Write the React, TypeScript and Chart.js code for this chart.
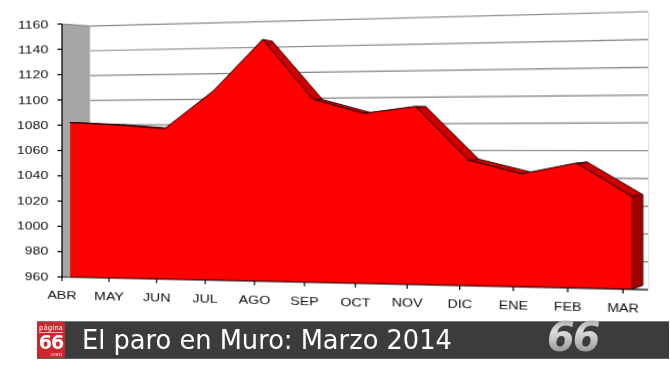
import React, { useEffect, useRef } from "react";
import { Chart, registerables } from "chart.js";

Chart.register(...registerables);

// ---------- data ----------
const months = ["ABR", "MAY", "JUN", "JUL", "AGO", "SEP", "OCT", "NOV", "DIC", "ENE", "FEB", "MAR"];
const paro = [1082, 1080, 1077, 1106, 1145, 1099, 1088, 1093, 1053, 1043, 1051, 1027];
const yTicks = [960, 980, 1000, 1020, 1040, 1060, 1080, 1100, 1120, 1140, 1160];
const titleText = "El paro en Muro: Marzo 2014";

// ---------- layout (flat chart space) ----------
const CW = 670;
const CH = 320;
const PAD = { left: 62, right: 22, top: 24, bottom: 43 };
const DATA_X = { min: -0.172, max: 11.29 };
const LABEL_X = { min: 0, max: 11.445 };
// perspective frame: flat rectangle -> trapezoid on screen
const FR = { L: 62, R: 648, LT: 24, LB: 277, RT: 11.7, RB: 289.7 };
// depth of the 3D area
const DEPTH = { dx: 10, yc: 123, k: 0.975 };
const WALL = { dx: 30.6, top: 2.6, k: 0.974 };
const FONT = "'Liberation Sans', Arial, sans-serif";
const STRETCH = 1.24;

function homography() {
  const { L, R, LT, LB, RT, RB } = FR;
  const hr = (RB - RT) / (LB - LT);
  const g = (hr - 1) / (L - hr * R);
  const wL = 1 + L * g;
  const wR = 1 + R * g;
  const e = wL;
  const d = (RT * wR - LT * wL) / (R - L);
  const f = -L * d;
  const a = (R * wR - L * wL) / (R - L);
  const b = L * wL - L * a;
  return { a, b, d, e, f, g };
}
const H = homography();
const matrixCss = `matrix3d(${H.a},${H.d},0,${H.g},0,${H.e},0,0,0,0,1,0,${H.b},${H.f},0,1)`;
// local on-screen scale of the flat canvas at flat x = u
const localSx = (u: number) => (H.a - H.g * H.b) / Math.pow(1 + H.g * u, 2);
const localSy = (u: number) => H.e / (1 + H.g * u);

function flatText(ctx: any, text: string, x: number, y: number, align: string) {
  ctx.save();
  ctx.translate(x, y);
  ctx.scale(STRETCH / localSx(x), 1 / localSy(x));
  ctx.textAlign = align;
  ctx.fillText(text, 0, 0);
  ctx.restore();
}

const depthPlugin = {
  id: "depth3d",
  beforeDatasetsDraw(chart: any) {
    const { ctx, chartArea: ca, scales } = chart;
    const y = scales.y;
    const backX = ca.left + WALL.dx;
    const backY = (py: number) => ca.top + WALL.top + (py - ca.top) * WALL.k;
    ctx.save();
    // left wall
    ctx.fillStyle = "#a6a6a6";
    ctx.beginPath();
    ctx.moveTo(ca.left, ca.top);
    ctx.lineTo(backX, backY(ca.top));
    ctx.lineTo(backX, backY(ca.bottom));
    ctx.lineTo(ca.left, ca.bottom);
    ctx.closePath();
    ctx.fill();
    // back wall right border
    ctx.strokeStyle = "#e4e4e4";
    ctx.lineWidth = 1;
    ctx.beginPath();
    ctx.moveTo(ca.right + 0.5, ca.top);
    ctx.lineTo(ca.right + 0.5, ca.bottom);
    ctx.stroke();
    // gridlines on back wall
    ctx.strokeStyle = "#858585";
    ctx.lineWidth = 1.2;
    yTicks.forEach((v) => {
      const py = y.getPixelForValue(v);
      ctx.beginPath();
      ctx.moveTo(backX, backY(py));
      ctx.lineTo(ca.right, py);
      ctx.stroke();
    });
    ctx.beginPath();
    ctx.moveTo(ca.left, ca.top);
    ctx.lineTo(backX, backY(ca.top));
    ctx.stroke();

    // extrusion of the area
    const pts = chart.getDatasetMeta(0).data.map((p: any) => ({ x: p.x, y: p.y }));
    const baseY = y.getPixelForValue(yTicks[0]);
    const off = (p: { x: number; y: number }) => ({
      x: p.x + DEPTH.dx,
      y: DEPTH.yc + (p.y - DEPTH.yc) * DEPTH.k,
    });
    const back = pts.map(off);
    const first = pts[0];
    const last = pts[pts.length - 1];
    const bFirstBase = off({ x: first.x, y: baseY });
    const bLastBase = off({ x: last.x, y: baseY });

    ctx.fillStyle = "#cc0000";
    ctx.beginPath();
    ctx.moveTo(bFirstBase.x, bFirstBase.y);
    back.forEach((p: any) => ctx.lineTo(p.x, p.y));
    ctx.lineTo(bLastBase.x, bLastBase.y);
    ctx.closePath();
    ctx.fill();
    for (let i = 0; i < pts.length - 1; i++) {
      ctx.beginPath();
      ctx.moveTo(pts[i].x, pts[i].y);
      ctx.lineTo(pts[i + 1].x, pts[i + 1].y);
      ctx.lineTo(back[i + 1].x, back[i + 1].y);
      ctx.lineTo(back[i].x, back[i].y);
      ctx.closePath();
      ctx.fill();
    }
    // right side face
    const bl = back[back.length - 1];
    ctx.fillStyle = "#a30000";
    ctx.beginPath();
    ctx.moveTo(last.x, last.y);
    ctx.lineTo(bl.x, bl.y);
    ctx.lineTo(bLastBase.x, bLastBase.y);
    ctx.lineTo(last.x, baseY);
    ctx.closePath();
    ctx.fill();
    // outlines
    ctx.strokeStyle = "#2a0000";
    ctx.lineWidth = 0.9;
    ctx.beginPath();
    back.forEach((p: any, i: number) => (i ? ctx.lineTo(p.x, p.y) : ctx.moveTo(p.x, p.y)));
    ctx.lineTo(bLastBase.x, bLastBase.y);
    ctx.stroke();
    pts.forEach((p: any, i: number) => {
      ctx.beginPath();
      ctx.moveTo(p.x, p.y);
      ctx.lineTo(back[i].x, back[i].y);
      ctx.stroke();
    });
    ctx.beginPath();
    ctx.moveTo(last.x, last.y);
    ctx.lineTo(last.x, baseY);
    ctx.lineTo(bLastBase.x, bLastBase.y);
    ctx.stroke();
    ctx.restore();
  },
  afterDraw(chart: any) {
    const { ctx, chartArea: ca, scales } = chart;
    const y = scales.y;
    const xl = scales.xl;
    ctx.save();
    ctx.strokeStyle = "#000";
    ctx.lineWidth = 1.3;
    // y axis
    ctx.beginPath();
    ctx.moveTo(ca.left, ca.top);
    ctx.lineTo(ca.left, ca.bottom);
    ctx.stroke();
    // floor edge
    ctx.lineWidth = 1.2;
    ctx.beginPath();
    ctx.moveTo(ca.left, ca.bottom);
    ctx.lineTo(ca.right, ca.bottom);
    ctx.stroke();
    ctx.fillStyle = "#111";
    ctx.font = `11.5px ${FONT}`;
    ctx.textBaseline = "middle";
    // y ticks
    yTicks.forEach((v) => {
      const py = y.getPixelForValue(v);
      ctx.beginPath();
      ctx.moveTo(ca.left - 5, py);
      ctx.lineTo(ca.left, py);
      ctx.stroke();
      flatText(ctx, String(v), ca.left - 15, py + 0.5, "right");
    });
    // x ticks & labels
    months.forEach((m, i) => {
      const px = xl.getPixelForValue(i);
      ctx.beginPath();
      ctx.moveTo(px, ca.bottom);
      ctx.lineTo(px, ca.bottom + 4);
      ctx.stroke();
      flatText(ctx, m, px, ca.bottom + 18.5, "center");
    });
    ctx.restore();
  },
};

export default function App() {
  const ref = useRef<HTMLCanvasElement | null>(null);

  useEffect(() => {
    if (!ref.current) return;
    const chart = new Chart(ref.current, {
      type: "line",
      data: {
        datasets: [
          {
            label: "Paro",
            data: paro.map((v, i) => ({ x: i, y: v })),
            fill: "start",
            backgroundColor: "#ff0000",
            borderColor: "#1a0000",
            borderWidth: 1,
            pointRadius: 0,
            tension: 0,
          },
        ],
      },
      options: {
        animation: false,
        responsive: false,
        devicePixelRatio: 1,
        layout: { padding: PAD },
        plugins: { legend: { display: false }, tooltip: { enabled: false }, title: { display: false } },
        scales: {
          x: { type: "linear", min: DATA_X.min, max: DATA_X.max, display: false },
          xl: { type: "linear", axis: "x", position: "bottom", min: LABEL_X.min, max: LABEL_X.max, display: false },
          y: { type: "linear", min: yTicks[0], max: yTicks[yTicks.length - 1], display: false },
        },
      },
      plugins: [depthPlugin],
    } as any);
    return () => chart.destroy();
  }, []);

  return (
    <div
      style={{
        position: "fixed",
        left: 0,
        top: 0,
        width: 670,
        height: 377,
        background: "#ffffff",
        overflow: "hidden",
      }}
    >
      <canvas
        ref={ref}
        width={CW}
        height={CH}
        style={{
          position: "absolute",
          left: 0,
          top: 0,
          width: CW,
          height: CH,
          transformOrigin: "0 0",
          transform: matrixCss,
        }}
      />
      <div
        style={{
          position: "absolute",
          left: 37,
          top: 321,
          width: 632,
          height: 38,
          background: "#3c3c3c",
          borderTop: "1px solid #7a7a7a",
          borderBottom: "1px solid #606060",
          boxSizing: "border-box",
        }}
      />
      <div
        style={{
          position: "absolute",
          left: 37,
          top: 322,
          width: 28,
          height: 36,
          background: "#c9282d",
          color: "#fff",
          fontFamily: "'DejaVu Sans', sans-serif",
          textAlign: "center",
        }}
      >
        <div
          style={{
            fontSize: 7,
            lineHeight: "8px",
            marginTop: 2,
            borderBottom: "1px solid #f0b0b0",
            marginLeft: 2,
            marginRight: 2,
          }}
        >
          página
        </div>
        <div style={{ fontSize: 19, fontWeight: "bold", lineHeight: "19px", letterSpacing: -1 }}>66</div>
        <div style={{ fontSize: 5, lineHeight: "5px", textAlign: "right", paddingRight: 3 }}>.com</div>
      </div>
      <div
        style={{
          position: "absolute",
          left: 82,
          top: 327,
          fontFamily: "'DejaVu Sans', sans-serif",
          fontSize: 25.7,
          lineHeight: "26px",
          color: "#ffffff",
          whiteSpace: "nowrap",
        }}
      >
        {titleText}
      </div>
      <div
        style={{
          position: "absolute",
          left: 547,
          top: 318,
          fontFamily: "'DejaVu Sans', sans-serif",
          fontSize: 40,
          fontWeight: "bold",
          fontStyle: "italic",
          lineHeight: "39px",
          whiteSpace: "nowrap",
          letterSpacing: -2,
          backgroundImage: "linear-gradient(180deg, #a8a8a8 0%, #dcdcdc 35%, #b0b0b0 70%, #8a8a8a 100%)",
          WebkitBackgroundClip: "text",
          backgroundClip: "text",
          color: "transparent",
        }}
      >
        66
      </div>
    </div>
  );
}
